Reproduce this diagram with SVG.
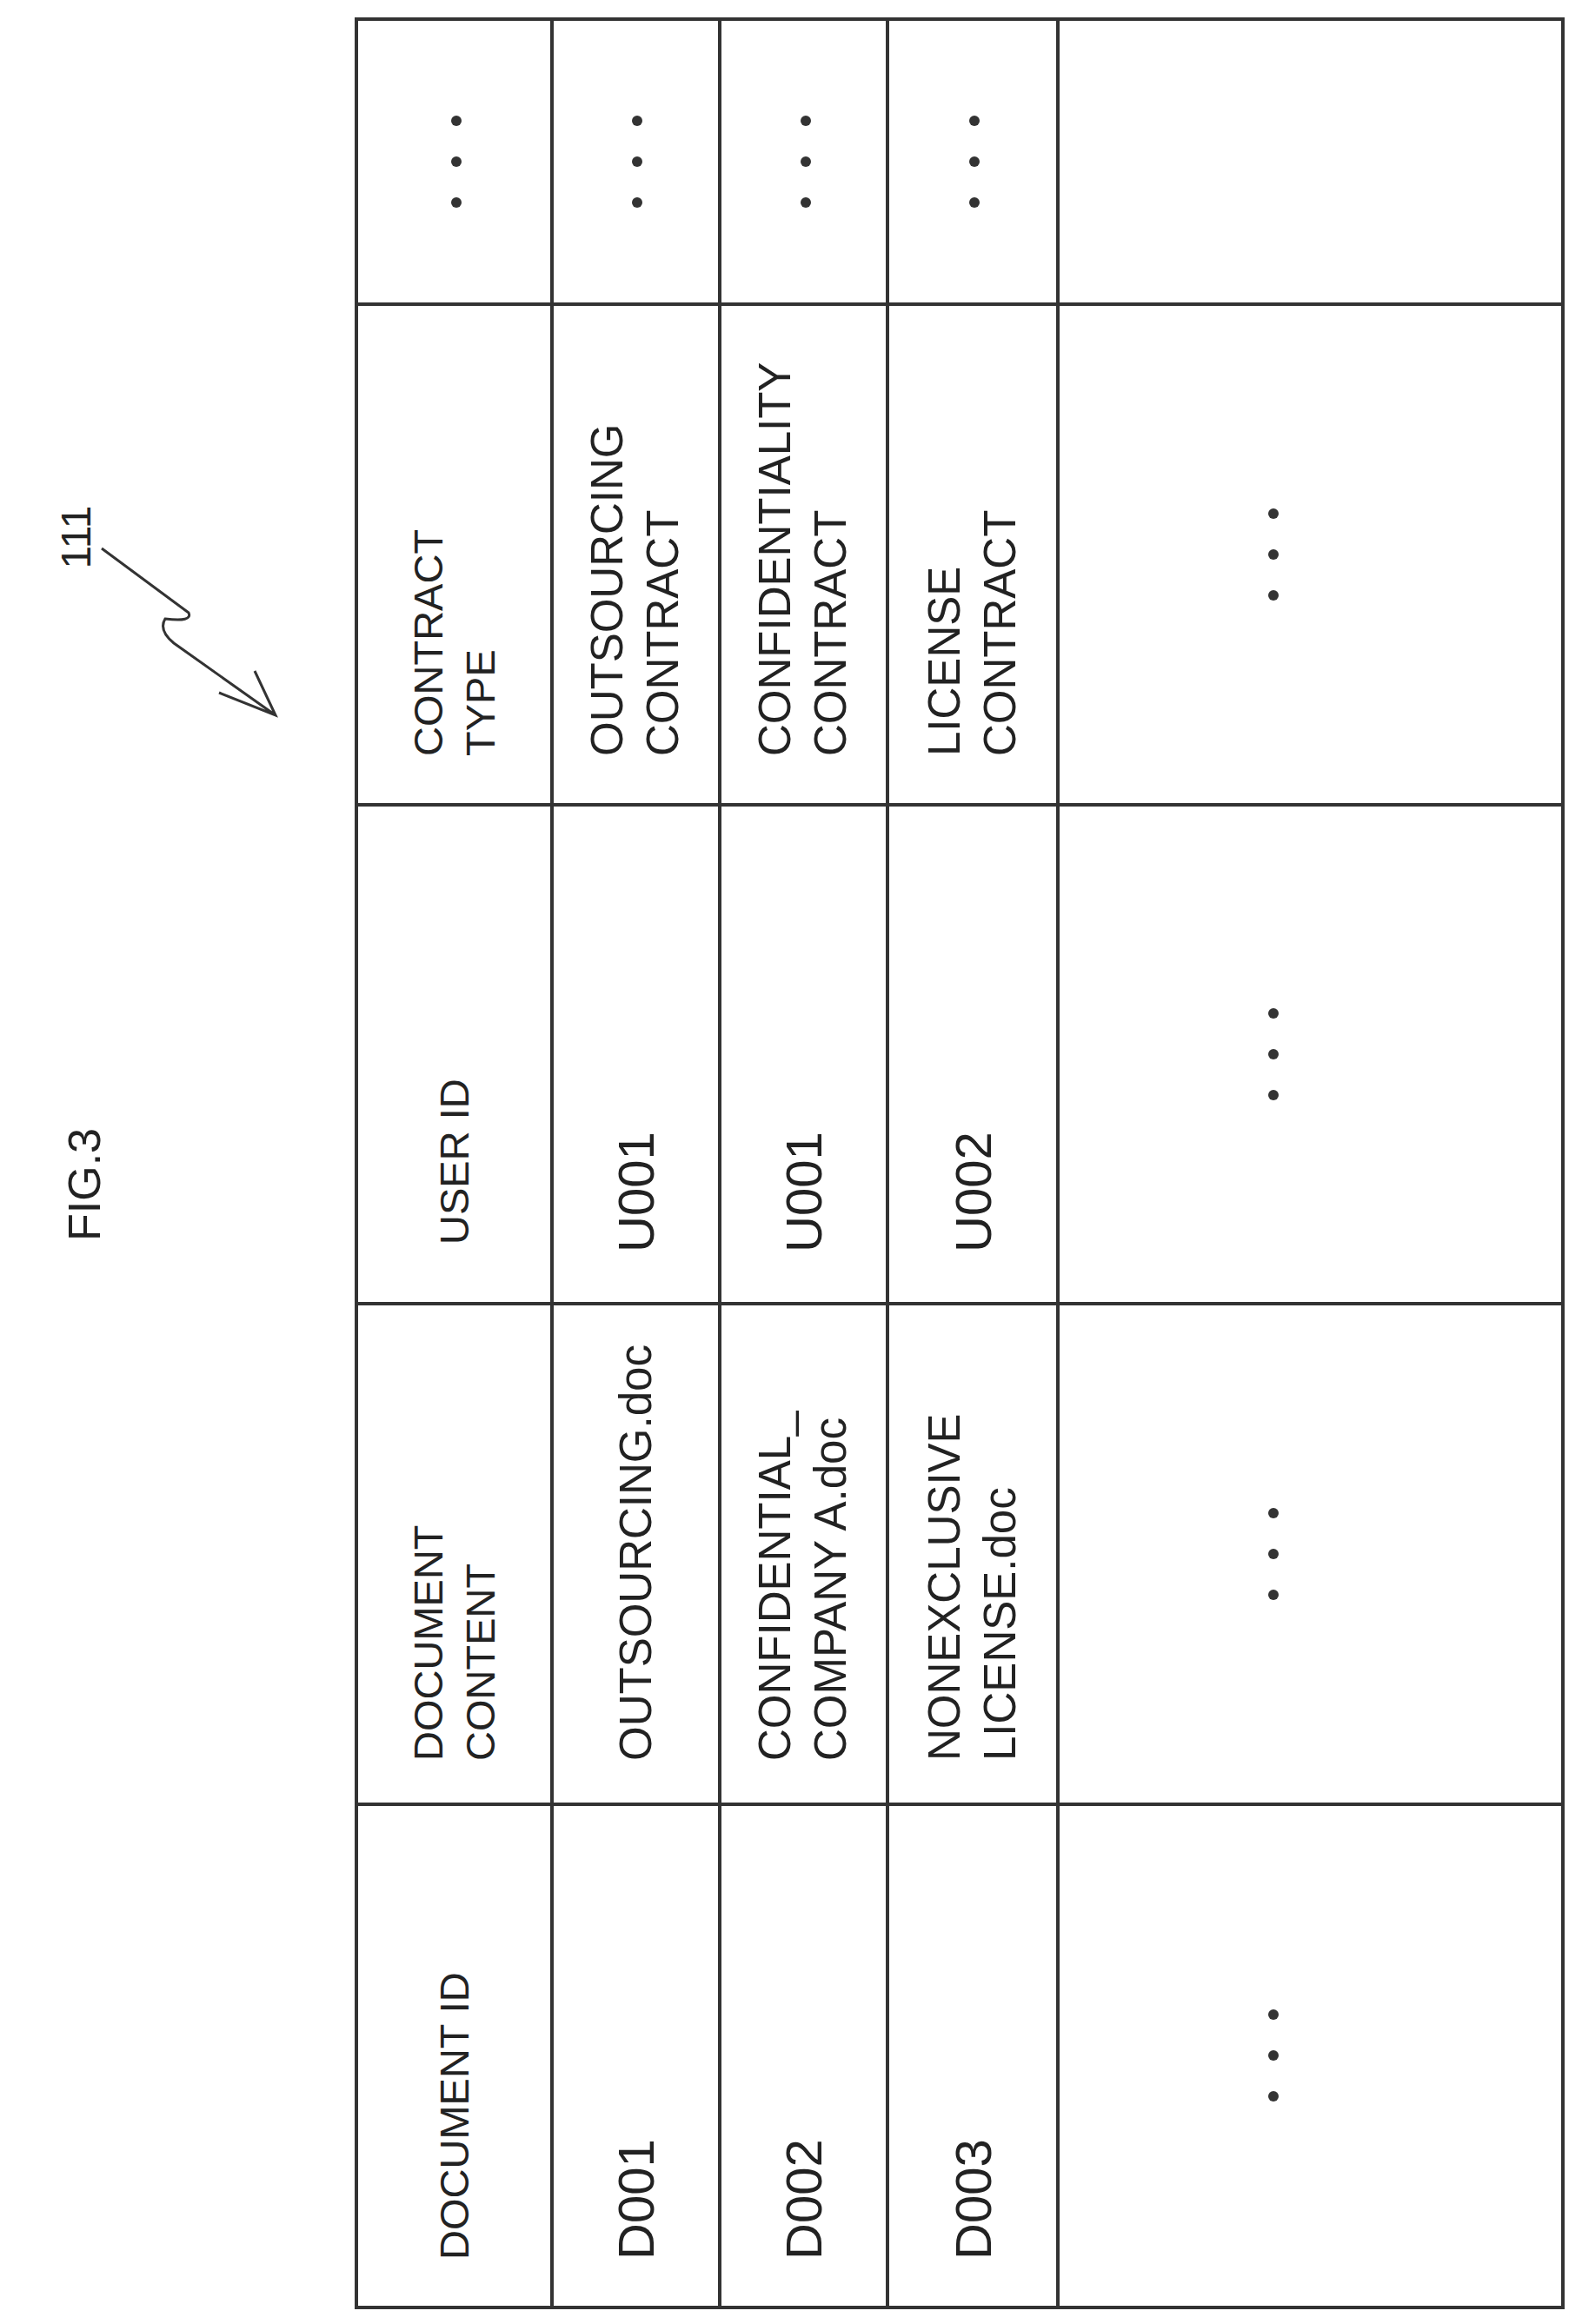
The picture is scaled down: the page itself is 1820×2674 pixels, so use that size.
<svg xmlns="http://www.w3.org/2000/svg" width="1820" height="2674" viewBox="0 0 1820 2674">
<style>
text{font-family:"Liberation Sans",Arial,sans-serif;font-size:51px;fill:#222}
.h{font-size:47px}
.id{font-size:58px}
.ln{stroke:#333;stroke-width:4;fill:none}
.d{fill:#333}
</style>
<rect width="1820" height="2674" fill="#fff"/>
<g id="title"><text transform="translate(115,1363) rotate(-90)" text-anchor="middle" style="font-size:52px">FIG.3</text></g>
<g id="ref111"><text transform="translate(104,618) rotate(-90)" text-anchor="middle" style="font-size:48px">111</text></g>
<g id="connectors">
<path class="ln" style="stroke-width:3" d="M117,631 L217,705 Q222,716 190,712 Q182,725 200,740 L317,823 M252,797 L317,823 L293,772"/>
</g>
<g id="table">
<rect class="ln" x="410" y="22" width="1388" height="2633"/>
<path class="ln" d="M635,22V2655M828,22V2655M1021,22V2655M1217,22V2655M410,350H1798M410,926H1798M410,1500H1798M410,2076H1798"/>
</g>
<g id="col1">
<text class="h" transform="translate(539,2600) rotate(-90)">DOCUMENT ID</text>
<text class="h" transform="translate(509,2026) rotate(-90)">DOCUMENT</text>
<text class="h" transform="translate(569,2026) rotate(-90)">CONTENT</text>
<text class="h" transform="translate(539,1432) rotate(-90)">USER ID</text>
<text class="h" transform="translate(509,870) rotate(-90)">CONTRACT</text>
<text class="h" transform="translate(569,870) rotate(-90)">TYPE</text>
</g>
<g id="col2">
<text class="id" transform="translate(752,2600) rotate(-90)">D001</text>
<text transform="translate(749,2026) rotate(-90)">OUTSOURCING.doc</text>
<text class="id" transform="translate(752,1441) rotate(-90)">U001</text>
<text transform="translate(716,870) rotate(-90)">OUTSOURCING</text>
<text transform="translate(780,870) rotate(-90)">CONTRACT</text>
</g>
<g id="col3">
<text class="id" transform="translate(945,2600) rotate(-90)">D002</text>
<text transform="translate(909,2026) rotate(-90)">CONFIDENTIAL_</text>
<text transform="translate(973,2026) rotate(-90)">COMPANY A.doc</text>
<text class="id" transform="translate(945,1441) rotate(-90)">U001</text>
<text transform="translate(909,870) rotate(-90)">CONFIDENTIALITY</text>
<text transform="translate(973,870) rotate(-90)">CONTRACT</text>
</g>
<g id="col4">
<text class="id" transform="translate(1140,2600) rotate(-90)">D003</text>
<text transform="translate(1104,2026) rotate(-90)">NONEXCLUSIVE</text>
<text transform="translate(1168,2026) rotate(-90)">LICENSE.doc</text>
<text class="id" transform="translate(1140,1441) rotate(-90)">U002</text>
<text transform="translate(1104,870) rotate(-90)">LICENSE</text>
<text transform="translate(1168,870) rotate(-90)">CONTRACT</text>
</g>
<g id="dots" class="d">
<circle cx="525" cy="139" r="6"/><circle cx="525" cy="186" r="6"/><circle cx="525" cy="233" r="6"/>
<circle cx="733" cy="139" r="6"/><circle cx="733" cy="186" r="6"/><circle cx="733" cy="233" r="6"/>
<circle cx="927" cy="139" r="6"/><circle cx="927" cy="186" r="6"/><circle cx="927" cy="233" r="6"/>
<circle cx="1121" cy="139" r="6"/><circle cx="1121" cy="186" r="6"/><circle cx="1121" cy="233" r="6"/>
<circle cx="1465" cy="2318" r="6"/><circle cx="1465" cy="2365" r="6"/><circle cx="1465" cy="2412" r="6"/>
<circle cx="1465" cy="1741" r="6"/><circle cx="1465" cy="1788" r="6"/><circle cx="1465" cy="1835" r="6"/>
<circle cx="1465" cy="1166" r="6"/><circle cx="1465" cy="1213" r="6"/><circle cx="1465" cy="1260" r="6"/>
<circle cx="1465" cy="591" r="6"/><circle cx="1465" cy="638" r="6"/><circle cx="1465" cy="685" r="6"/>
</g>
</svg>
